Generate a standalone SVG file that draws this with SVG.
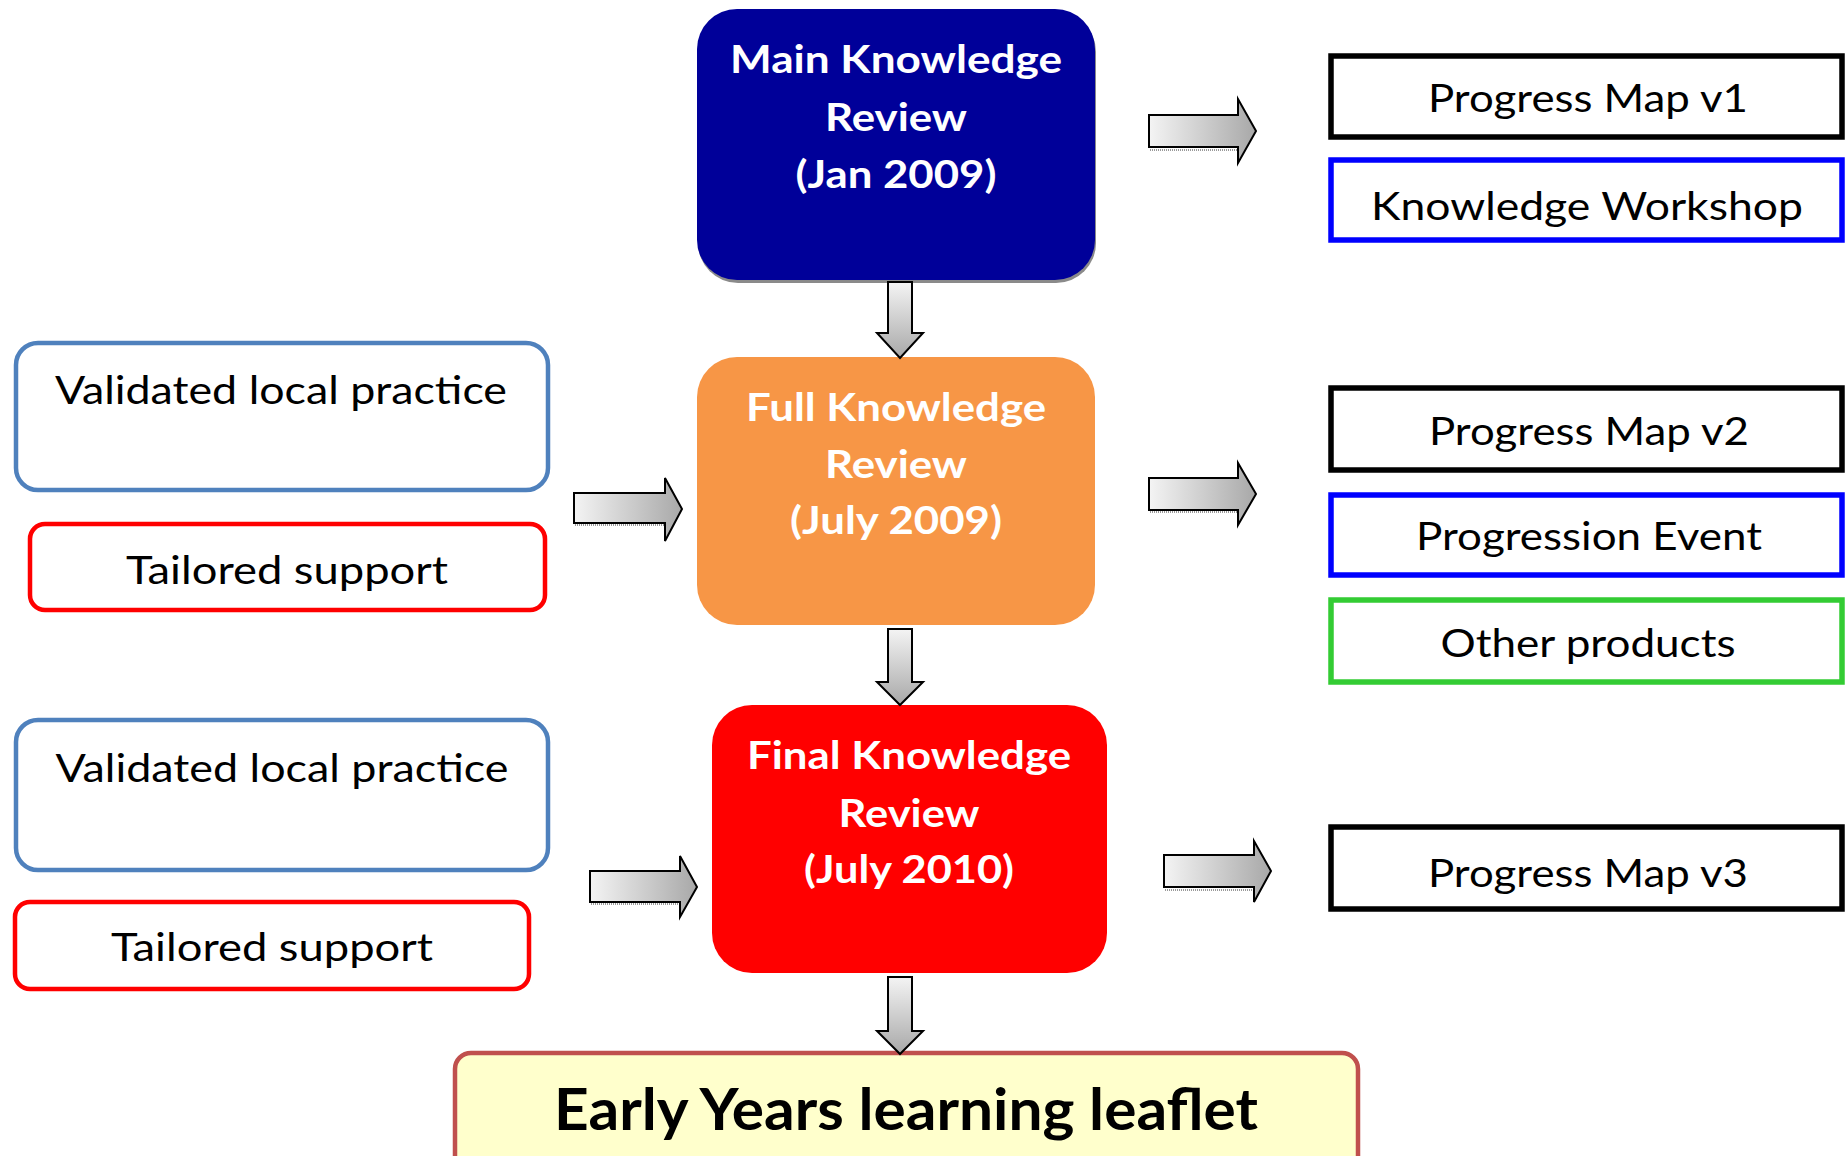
<svg xmlns="http://www.w3.org/2000/svg" width="1845" height="1156" viewBox="0 0 1845 1156">
<defs>
<linearGradient id="gh" x1="0" y1="0" x2="1" y2="0">
<stop offset="0" stop-color="#f4f4f4"/><stop offset="1" stop-color="#a8a8a8"/>
</linearGradient>
<linearGradient id="gv" x1="0" y1="0" x2="0" y2="1">
<stop offset="0" stop-color="#f4f4f4"/><stop offset="1" stop-color="#a8a8a8"/>
</linearGradient>
</defs>
<style>
.big{font-family:Lato,"Open Sans","Liberation Sans",sans-serif;font-weight:bold;font-size:39px;fill:#fff;text-anchor:middle}
.reg{font-family:Lato,"Open Sans","Liberation Sans",sans-serif;font-size:39px;fill:#000;text-anchor:middle}
.lea{font-family:Lato,"Open Sans","Liberation Sans",sans-serif;font-weight:bold;font-size:58px;fill:#000;text-anchor:middle}
.ar{stroke:#000;stroke-width:2;stroke-linejoin:miter}
.sh{stroke:#9a9a9a;stroke-width:2;stroke-dasharray:1 1;fill:none}
.rb{fill:#fff;stroke-width:5.5}
.lb{fill:#fff;stroke-width:4.5}
</style>
<rect width="1845" height="1156" fill="#fff"/>

<g id="main-review">
<rect x="698" y="12" width="398" height="271" rx="40" fill="#8a8a8a"/>
<rect x="697" y="9" width="398" height="271" rx="40" fill="#000099"/>
<text class="big" x="896" y="73" textLength="332" lengthAdjust="spacingAndGlyphs">Main Knowledge</text>
<text class="big" x="896" y="131" textLength="142" lengthAdjust="spacingAndGlyphs">Review</text>
<text class="big" x="896" y="188" textLength="201" lengthAdjust="spacingAndGlyphs">(Jan 2009)</text>
</g>

<g id="full-review">
<rect x="697" y="357" width="398" height="268" rx="40" fill="#F79646"/>
<text class="big" x="896" y="421" textLength="300" lengthAdjust="spacingAndGlyphs">Full Knowledge</text>
<text class="big" x="896" y="478" textLength="142" lengthAdjust="spacingAndGlyphs">Review</text>
<text class="big" x="896" y="534" textLength="212" lengthAdjust="spacingAndGlyphs">(July 2009)</text>
</g>

<g id="final-review">
<rect x="712" y="705" width="395" height="268" rx="40" fill="#FF0000"/>
<text class="big" x="909" y="769" textLength="324" lengthAdjust="spacingAndGlyphs">Final Knowledge</text>
<text class="big" x="909" y="827" textLength="141" lengthAdjust="spacingAndGlyphs">Review</text>
<text class="big" x="909" y="883" textLength="210" lengthAdjust="spacingAndGlyphs">(July 2010)</text>
</g>

<g id="leaflet">
<rect x="455" y="1053" width="903" height="130" rx="16" fill="#FFFFCC" stroke="#C0504D" stroke-width="4.5"/>
<text class="lea" x="906" y="1130" textLength="704" lengthAdjust="spacingAndGlyphs">Early Years learning leaflet</text>
</g>

<g id="validated-1">
<rect class="lb" x="16" y="343" width="532" height="147" rx="22" stroke="#4F81BD"/>
<text class="reg" x="281" y="404" textLength="452" lengthAdjust="spacingAndGlyphs">Validated local practice</text>
</g>
<g id="tailored-1">
<rect class="lb" x="30" y="524" width="515" height="86" rx="15" stroke="#FF0000"/>
<text class="reg" x="287" y="584" textLength="322" lengthAdjust="spacingAndGlyphs">Tailored support</text>
</g>
<g id="validated-2">
<rect class="lb" x="16" y="720" width="532" height="150" rx="22" stroke="#4F81BD"/>
<text class="reg" x="282" y="782" textLength="453" lengthAdjust="spacingAndGlyphs">Validated local practice</text>
</g>
<g id="tailored-2">
<rect class="lb" x="15" y="902" width="514" height="87" rx="15" stroke="#FF0000"/>
<text class="reg" x="272" y="961" textLength="322" lengthAdjust="spacingAndGlyphs">Tailored support</text>
</g>

<g id="progress-map-v1">
<rect class="rb" x="1331" y="56" width="511" height="81" stroke="#000"/>
<text class="reg" x="1588" y="112" textLength="320" lengthAdjust="spacingAndGlyphs">Progress Map v1</text>
</g>
<g id="knowledge-workshop">
<rect class="rb" x="1331" y="160" width="511" height="80" stroke="#0000FF"/>
<text class="reg" x="1587" y="220" textLength="432" lengthAdjust="spacingAndGlyphs">Knowledge Workshop</text>
</g>
<g id="progress-map-v2">
<rect class="rb" x="1331" y="388" width="511" height="82" stroke="#000"/>
<text class="reg" x="1589" y="445" textLength="320" lengthAdjust="spacingAndGlyphs">Progress Map v2</text>
</g>
<g id="progression-event">
<rect class="rb" x="1331" y="495" width="511" height="80" stroke="#0000FF"/>
<text class="reg" x="1589" y="550" textLength="346" lengthAdjust="spacingAndGlyphs">Progression Event</text>
</g>
<g id="other-products">
<rect class="rb" x="1331" y="600" width="511" height="82" stroke="#33CC33" stroke-width="5"/>
<text class="reg" x="1588" y="657" textLength="295" lengthAdjust="spacingAndGlyphs">Other products</text>
</g>
<g id="progress-map-v3">
<rect class="rb" x="1331" y="827" width="511" height="82" stroke="#000"/>
<text class="reg" x="1588" y="887" textLength="320" lengthAdjust="spacingAndGlyphs">Progress Map v3</text>
</g>

<g id="connectors">
<!-- down arrows -->
<path class="ar" fill="url(#gv)" d="M888,282 H912 V333 H923 L900,358 L877,333 H888 Z"/>
<path class="ar" fill="url(#gv)" d="M888,629 H912 V682 H923 L900,705 L877,682 H888 Z"/>
<path class="ar" fill="url(#gv)" d="M888,977 H912 V1031 H923 L900,1054 L877,1031 H888 Z"/>
<!-- right-side arrows -->
<line class="sh" x1="1150" y1="150" x2="1237" y2="150"/>
<path class="ar" fill="url(#gh)" d="M1149,115 H1238 V99 L1256,131 L1238,163 V147 H1149 Z"/>
<line class="sh" x1="1150" y1="512" x2="1237" y2="512"/>
<path class="ar" fill="url(#gh)" d="M1149,478 H1238 V463 L1256,494 L1238,525 V510 H1149 Z"/>
<line class="sh" x1="1165" y1="890" x2="1253" y2="890"/>
<path class="ar" fill="url(#gh)" d="M1164,855 H1254 V841 L1271,871 L1254,902 V887 H1164 Z"/>
<!-- left-side arrows -->
<line class="sh" x1="575" y1="525" x2="664" y2="525"/>
<path class="ar" fill="url(#gh)" d="M574,493 H665 V478 L682,509 L665,541 V523 H574 Z"/>
<line class="sh" x1="591" y1="904" x2="679" y2="904"/>
<path class="ar" fill="url(#gh)" d="M590,871 H680 V856 L697,887 L680,917 V902 H590 Z"/>
</g>
</svg>
